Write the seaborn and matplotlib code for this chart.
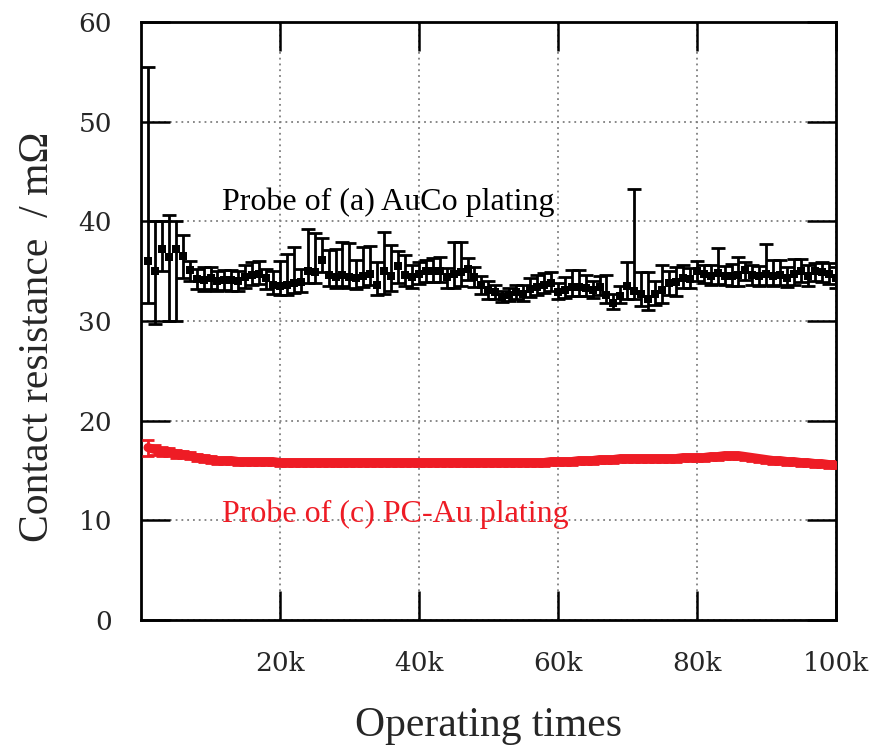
import numpy as np
import pandas as pd
import matplotlib
matplotlib.use("Agg")
import matplotlib.pyplot as plt
import seaborn as sns

# ---------------- data ----------------
cycles_k = list(range(1, 101))  # operating times in thousands

auco_mean = [36.0, 35.0, 37.2, 36.4, 37.2, 36.5, 35.1, 34.2, 34.1, 34.3,
             34.0, 34.1, 34.1, 34.0, 34.4, 34.6, 34.7, 34.3, 33.6, 33.5,
             33.6, 33.8, 33.9, 35.0, 34.9, 36.1, 34.6, 34.4, 34.6, 34.4,
             34.3, 34.5, 34.7, 33.6, 35.0, 34.5, 35.5, 34.6, 34.4, 34.7,
             35.0, 35.0, 35.0, 34.4, 34.7, 34.9, 35.2, 34.4, 33.6, 33.1,
             32.9, 32.4, 32.6, 32.9, 32.7, 33.2, 33.4, 33.6, 33.8, 32.9,
             33.1, 33.4, 33.4, 33.3, 33.1, 33.4, 32.6, 31.8, 32.5, 33.5,
             33.0, 32.7, 32.2, 32.7, 33.1, 33.8, 33.9, 34.3, 34.2, 35.0,
             34.7, 34.5, 34.8, 34.5, 34.5, 34.6, 35.1, 34.6, 34.5, 34.7,
             34.5, 34.6, 34.3, 34.7, 35.0, 34.5, 35.0, 34.9, 34.7, 34.3]
auco_low = [31.8, 29.7, 35.0, 30.0, 30.0, 34.3, 34.0, 33.2, 33.0, 33.2,
            33.0, 33.1, 33.0, 33.0, 33.3, 33.6, 33.7, 33.2, 32.7, 32.6,
            32.6, 32.8, 32.9, 33.8, 33.8, 34.9, 33.5, 33.3, 33.5, 33.3,
            33.2, 33.4, 33.6, 32.6, 32.7, 33.0, 33.8, 33.5, 33.3, 33.7,
            33.9, 33.9, 33.9, 33.3, 33.3, 33.5, 34.1, 33.4, 32.7, 32.2,
            32.2, 31.9, 32.0, 32.2, 32.0, 32.4, 32.6, 32.8, 33.0, 32.2,
            32.3, 32.5, 32.5, 32.5, 32.3, 32.6, 31.8, 31.2, 31.8, 32.2,
            32.2, 31.5, 31.1, 31.6, 31.8, 32.6, 32.5, 33.3, 33.3, 34.0,
            33.8, 33.6, 33.7, 33.6, 33.5, 33.5, 34.1, 33.6, 33.5, 33.6,
            33.5, 33.6, 33.4, 33.6, 33.9, 33.5, 34.0, 33.9, 33.7, 33.3]
auco_high = [55.5, 40.0, 40.0, 40.6, 40.0, 38.6, 36.0, 35.2, 35.4, 35.4,
             35.0, 35.1, 35.1, 35.0, 35.6, 35.9, 36.0, 35.2, 35.0, 36.0,
             36.7, 37.4, 35.2, 39.2, 38.8, 38.3, 37.1, 37.2, 37.9, 37.8,
             36.1, 37.4, 37.5, 35.9, 38.9, 37.6, 37.0, 36.6, 35.6, 35.9,
             36.1, 36.3, 36.4, 35.3, 37.9, 37.9, 36.3, 35.4, 34.5, 34.0,
             33.6, 33.0, 33.3, 33.6, 33.6, 34.3, 34.6, 34.8, 34.9, 33.8,
             34.4, 35.1, 35.1, 34.6, 34.0, 34.5, 34.6, 32.7, 33.5, 35.9,
             43.2, 34.9, 34.9, 34.0, 35.6, 35.0, 35.4, 35.6, 35.3, 36.0,
             35.6, 35.6, 37.3, 35.5, 35.7, 36.4, 35.9, 35.6, 35.5, 37.7,
             36.1, 36.1, 35.4, 36.2, 36.2, 35.6, 35.8, 35.9, 35.8, 35.4]

pcau_mean = [17.3, 17.1, 16.9, 16.9, 16.7, 16.6, 16.5, 16.3, 16.2, 16.1,
             16.0, 16.0, 16.0, 15.9, 15.9, 15.9, 15.9, 15.9, 15.9, 15.8,
             15.8, 15.8, 15.8, 15.8, 15.8, 15.8, 15.8, 15.8, 15.8, 15.8,
             15.8, 15.8, 15.8, 15.8, 15.8, 15.8, 15.8, 15.8, 15.8, 15.8,
             15.8, 15.8, 15.8, 15.8, 15.8, 15.8, 15.8, 15.8, 15.8, 15.8,
             15.8, 15.8, 15.8, 15.8, 15.8, 15.8, 15.8, 15.8, 15.9, 15.9,
             15.9, 15.9, 16.0, 16.0, 16.0, 16.1, 16.1, 16.1, 16.2, 16.2,
             16.2, 16.2, 16.2, 16.2, 16.2, 16.2, 16.2, 16.3, 16.3, 16.3,
             16.3, 16.4, 16.4, 16.5, 16.5, 16.5, 16.4, 16.3, 16.2, 16.1,
             16.0, 16.0, 15.9, 15.9, 15.8, 15.8, 15.7, 15.7, 15.6, 15.6]
pcau_err = [0.8, 0.5, 0.45, 0.4, 0.4, 0.35, 0.35, 0.35, 0.35, 0.35] + [0.3] * 90

x_ticks_k = [20, 40, 60, 80, 100]
x_tick_labels = ["20k", "40k", "60k", "80k", "100k"]
y_ticks = [0, 10, 20, 30, 40, 50, 60]

# ---------------- style ----------------
sns.set_style("white")
plt.rcParams['font.family'] = ['Liberation Serif', 'DejaVu Serif']
plt.rcParams['mathtext.fontset'] = 'stix'

fig = plt.figure(figsize=(8.76, 7.53), dpi=100)
ax = fig.add_axes([0.161, 0.1766, 0.793, 0.7942])

df_a = pd.DataFrame({"k": cycles_k, "r": auco_mean,
                     "lo": auco_low, "hi": auco_high})
df_c = pd.DataFrame({"k": cycles_k, "r": pcau_mean, "e": pcau_err})
df_a["x"] = df_a["k"] * 1000
df_c["x"] = df_c["k"] * 1000

# AuCo: error bars + markers
ax.errorbar(df_a["x"], df_a["r"],
            yerr=[df_a["r"] - df_a["lo"], df_a["hi"] - df_a["r"]],
            fmt="none", ecolor="black", elinewidth=2.0, capsize=5,
            capthick=2.0, zorder=3)
sns.scatterplot(data=df_a, x="x", y="r", ax=ax, marker="s", s=30,
                color="black", edgecolor="black", linewidth=0, zorder=4,
                legend=False)

# PC-Au: error bars + markers
red = "#ee1c25"
ax.errorbar(df_c["x"], df_c["r"], yerr=df_c["e"], fmt="none",
            ecolor=red, elinewidth=2.0, capsize=4.5, capthick=2.0, zorder=3)
sns.lineplot(data=df_c, x="x", y="r", ax=ax, color=red, lw=6.5,
             marker="s", markersize=4, markeredgewidth=0, zorder=4,
             legend=False)

# axes
ax.set_xlim(0, 100000)
ax.set_ylim(0, 60)
ax.set_xticks([v * 1000 for v in x_ticks_k])
ax.set_xticklabels(x_tick_labels)
ax.set_yticks(y_ticks)
ax.set_yticklabels([str(v) for v in y_ticks])

ax.tick_params(axis="both", which="major", direction="in", length=21,
               width=1.8, color="black", labelsize=19,
               top=True, right=True, bottom=True, left=True)
ax.tick_params(axis="y", pad=21)
ax.tick_params(axis="x", pad=22)
for lab in ax.get_xticklabels() + ax.get_yticklabels():
    lab.set_family(['DejaVu Serif'])

ax.grid(True, color="#7f7f7f", linestyle=(0, (1, 2.2)), linewidth=1.3)
for s in ax.spines.values():
    s.set_linewidth(2)
    s.set_color("black")

ax.set_xlabel("Operating times", fontsize=30, labelpad=22)
ax.set_ylabel("Contact resistance  / m\u03a9", fontsize=30)
ax.yaxis.set_label_coords(-0.121, 0.473)

ax.text(11700, 41.9, "Probe of (a) AuCo plating", fontsize=23,
        color="black", ha="left", va="center")
ax.text(11700, 10.6, "Probe of (c) PC-Au plating", fontsize=23,
        color=red, ha="left", va="center")

fig.savefig("out.png", dpi=100)
